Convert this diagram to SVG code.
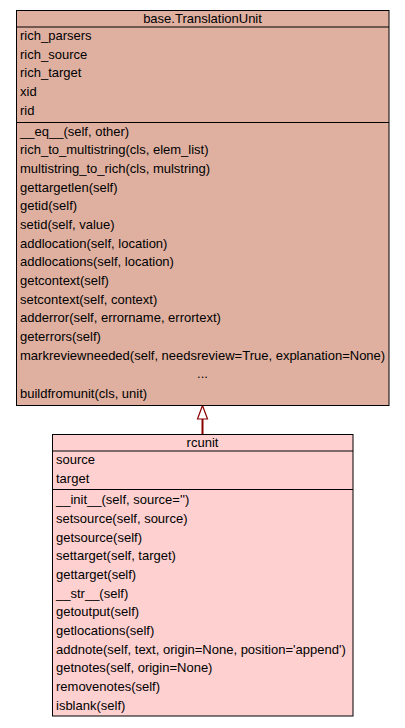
<svg xmlns="http://www.w3.org/2000/svg" width="405" height="728" viewBox="0 0 405 728">
<style>
text{font-family:"Liberation Sans",Arial,sans-serif;font-size:13px;fill:#000}
.c{text-anchor:middle}
.box{stroke:#000;stroke-width:1}
.sep{stroke:#000;stroke-width:1}
.base{fill:#dfb0a0}
.child{fill:#fed0d0}
</style>
<rect width="405" height="728" fill="#fff"/>
<g id="connectors">
<line x1="202.5" y1="434.5" x2="202.5" y2="419" stroke="#8b0000" stroke-width="2"/>
<polygon points="202.5,405.5 197.5,419 207.5,419" fill="#fff" stroke="#8b0000" stroke-width="1.2"/>
</g>
<g id="base_TranslationUnit">
<rect class="box base" x="16.5" y="10.5" width="372.5" height="395"/>
<line class="sep" x1="16.5" y1="27" x2="389" y2="27"/>
<line class="sep" x1="16.5" y1="122.5" x2="389" y2="122.5"/>
<text class="c" x="202.5" y="22.5">base.TranslationUnit</text>
<text x="20" y="40">rich_parsers</text>
<text x="20" y="58.7">rich_source</text>
<text x="20" y="77.3">rich_target</text>
<text x="20" y="96">xid</text>
<text x="20" y="114.7">rid</text>
<text x="20" y="135.5">__eq__(self, other)</text>
<text x="20" y="154.2">rich_to_multistring(cls, elem_list)</text>
<text x="20" y="172.8">multistring_to_rich(cls, mulstring)</text>
<text x="20" y="191.5">gettargetlen(self)</text>
<text x="20" y="210.2">getid(self)</text>
<text x="20" y="228.8">setid(self, value)</text>
<text x="20" y="247.5">addlocation(self, location)</text>
<text x="20" y="266.2">addlocations(self, location)</text>
<text x="20" y="284.8">getcontext(self)</text>
<text x="20" y="303.5">setcontext(self, context)</text>
<text x="20" y="322.2">adderror(self, errorname, errortext)</text>
<text x="20" y="340.8">geterrors(self)</text>
<text x="20" y="359.5">markreviewneeded(self, needsreview=True, explanation=None)</text>
<text class="c" x="202.5" y="378">...</text>
<text x="20" y="398">buildfromunit(cls, unit)</text>
</g>
<g id="rcunit">
<rect class="box child" x="52.5" y="434.5" width="300.5" height="281.5"/>
<line class="sep" x1="52.5" y1="451" x2="353" y2="451"/>
<line class="sep" x1="52.5" y1="489.5" x2="353" y2="489.5"/>
<text class="c" x="202.5" y="446.5">rcunit</text>
<text x="56" y="464">source</text>
<text x="56" y="483">target</text>
<text x="56" y="504.3">__init__(self, source='')</text>
<text x="56" y="523">setsource(self, source)</text>
<text x="56" y="541.7">getsource(self)</text>
<text x="56" y="560.3">settarget(self, target)</text>
<text x="56" y="579">gettarget(self)</text>
<text x="56" y="597.7">__str__(self)</text>
<text x="56" y="616.3">getoutput(self)</text>
<text x="56" y="635">getlocations(self)</text>
<text x="56" y="653.7">addnote(self, text, origin=None, position='append')</text>
<text x="56" y="672.3">getnotes(self, origin=None)</text>
<text x="56" y="691">removenotes(self)</text>
<text x="56" y="709.7">isblank(self)</text>
</g>
</svg>
